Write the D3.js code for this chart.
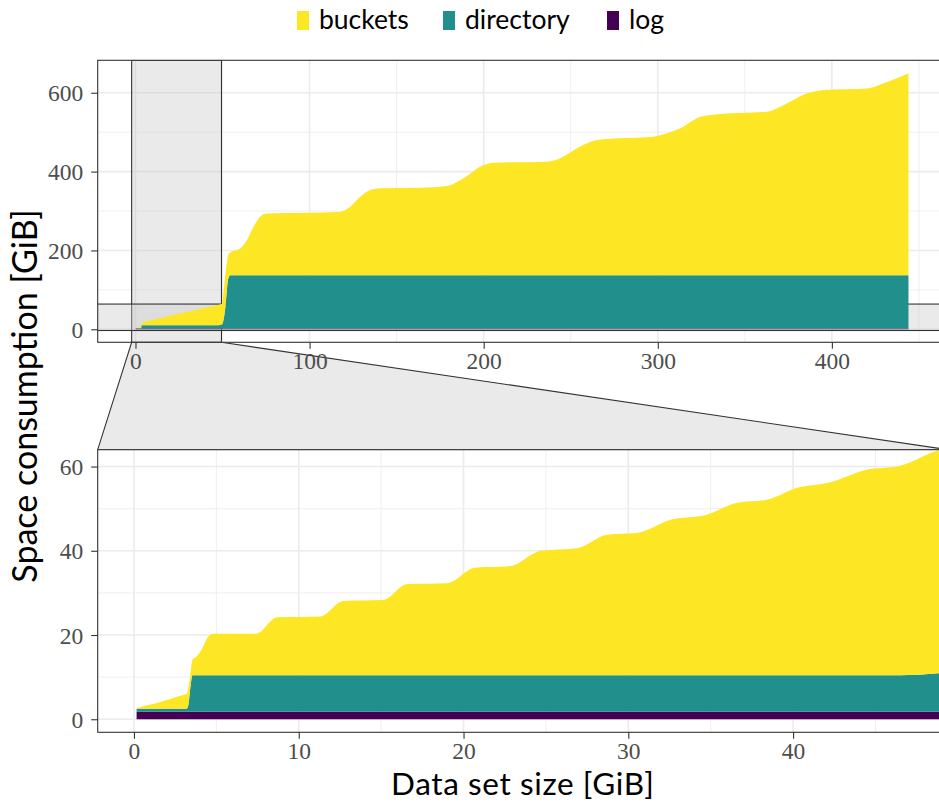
<!DOCTYPE html>
<html><head><meta charset="utf-8">
<script src="https://cdn.jsdelivr.net/npm/d3@7"></script>
<style>body{margin:0;background:#fff}svg{display:block}</style>
</head><body><svg id="c" width="939" height="802"></svg>
<script>
// ---- data (GiB) ----
const seriesNames = ["buckets", "directory", "log"];
const seriesColors = ["#FDE725", "#21908C", "#440154"];
const dataSize = [0.16,0.4,1.5,3.1,3.2,3.3,3.43,3.55,3.8,4.1,4.5,4.8,7.4,8.7,11.3,12.7,15.1,16.6,19.0,20.7,22.8,24.7,26.9,28.7,30.5,32.6,34.7,36.6,38.4,40.3,42.2,44.4,46.5,48.8,49.6,51.5,53.2,54.4,57,60.1,64,67.8,71.6,75.5,100,117.6,123.3,129.1,134.8,140.6,163.6,178.9,188.4,200,205.7,236.4,244,253.6,263.2,270.9,297.6,305.3,313,324.5,336,362.8,372.4,385.8,395.3,420.3,429.8,444];
const logSpace = [1.8,1.8,1.8,1.8,1.8,1.8,1.8,1.8,1.8,1.8,1.8,1.8,1.8,1.8,1.8,1.8,1.8,1.8,1.8,1.8,1.8,1.8,1.8,1.8,1.8,1.8,1.8,1.8,1.8,1.8,1.8,1.8,1.8,1.8,1.8,1.8,1.8,1.8,1.8,1.8,1.8,1.8,1.8,1.8,1.8,1.8,1.8,1.8,1.8,1.8,1.8,1.8,1.8,1.8,1.8,1.8,1.8,1.8,1.8,1.8,1.8,1.8,1.8,1.8,1.8,1.8,1.8,1.8,1.8,1.8,1.8,1.8];
const directorySpace = [0.7,0.7,0.7,0.7,0.7,1.5,6.0,8.65,8.65,8.65,8.65,8.65,8.65,8.65,8.65,8.65,8.65,8.65,8.65,8.65,8.65,8.65,8.65,8.65,8.65,8.65,8.65,8.65,8.65,8.65,8.65,8.65,8.65,9.1,9.6,49,125,135.2,135.2,135.2,135.2,135.2,135.2,135.2,135.2,135.2,135.2,135.2,135.2,135.2,135.2,135.2,135.2,135.2,135.2,135.2,135.2,135.2,135.2,135.2,135.2,135.2,135.2,135.2,135.2,135.2,135.2,135.2,135.2,135.2,135.2,135.2];
const bucketSpace = [0.1,0.4,1.5,3.4,3.5,4.2,3.2,3.65,4.45,6.05,9.15,9.85,9.85,13.75,13.95,17.65,17.85,21.65,21.85,25.55,25.85,29.55,30.15,33.35,33.75,36.95,38.05,40.95,41.65,44.55,45.75,48.75,49.75,52.9,53.1,82.2,61.2,58.0,62.0,68.0,89.0,123.0,148.6,157.0,158.5,161.0,174.0,199.0,216.0,220.6,222.0,226.4,246.0,279.7,285.5,288.0,296.7,322.0,341.0,345.6,351.5,360.0,372.8,402.0,409.0,415.0,432.0,461.5,470.0,474.0,487.0,512.5];
const xTicksMain = [0,100,200,300,400];
const yTicksMain = [0,200,400,600];
const xTicksZoom = [0,10,20,30,40];
const yTicksZoom = [0,20,40,60];
const xTitle = "Data set size [GiB]";
const yTitle = "Space consumption [GiB]";

// ---- table for stacking ----
const table = dataSize.map((x,i)=>({x, log:logSpace[i], directory:directorySpace[i], buckets:bucketSpace[i]}));
const stacked = d3.stack().keys(["log","directory","buckets"])(table);
const colorOf = {buckets:seriesColors[0], directory:seriesColors[1], log:seriesColors[2]};

const svg = d3.select("#c");
const PL = 97.7, PR = 948;
const panels = [
  {id:"main", x:d3.scaleLinear().domain([-21.7,466.7]).range([PL,PR]),
   y:d3.scaleLinear().domain([-33,682.3]).range([342.3,60.3]),
   xt:xTicksMain, yt:yTicksMain, xminor:[50,150,250,350,450], yminor:[100,300,500]},
  {id:"zoom", x:d3.scaleLinear().domain([-2.2,49.4]).range([PL,PR]),
   y:d3.scaleLinear().domain([-3.1,64.0]).range([732.3,449.7]),
   xt:xTicksZoom, yt:yTicksZoom, xminor:[5,15,25,35,45], yminor:[10,30,50]}
];
const main = panels[0], zoom = panels[1];
const bandFill = "#c8c8c8", bandOpacity = 0.38, ink = "#333333";

function drawPanel(p){
  const g = svg.append("g");
  const [x0,x1] = p.x.range(), [y1,y0] = p.y.range();
  g.append("rect").attr("x",x0).attr("y",y0).attr("width",x1-x0).attr("height",y1-y0).attr("fill","#fff");
  const grid = g.append("g").attr("stroke","#ebebeb");
  p.xminor.forEach(v=>grid.append("line").attr("x1",p.x(v)).attr("x2",p.x(v)).attr("y1",y0).attr("y2",y1).attr("stroke-width",0.8));
  p.yminor.forEach(v=>grid.append("line").attr("y1",p.y(v)).attr("y2",p.y(v)).attr("x1",x0).attr("x2",x1).attr("stroke-width",0.8));
  p.xt.forEach(v=>grid.append("line").attr("x1",p.x(v)).attr("x2",p.x(v)).attr("y1",y0).attr("y2",y1).attr("stroke-width",1.6));
  p.yt.forEach(v=>grid.append("line").attr("y1",p.y(v)).attr("y2",p.y(v)).attr("x1",x0).attr("x2",x1).attr("stroke-width",1.6));
  return g;
}

panels.forEach(p=>{
  const [x0,x1] = p.x.range(), [y1,y0] = p.y.range();
  svg.append("clipPath").attr("id","clip-"+p.id).append("rect")
    .attr("x",x0).attr("y",y0).attr("width",x1-x0).attr("height",y1-y0);
});

// trapezoid between panels
const zx0 = main.x(zoom.x.domain()[0]), zx1 = main.x(zoom.x.domain()[1]);
svg.append("path")
  .attr("d", d3.line()([[zx0,342.3],[zx1,342.3],[PR,449.7],[PL,449.7]]) + "Z")
  .attr("fill",bandFill).attr("fill-opacity",bandOpacity)
  .attr("stroke",ink).attr("stroke-width",1.1);

panels.forEach(p=>{
  const g = drawPanel(p);
  const [x0,x1] = p.x.range(), [y1,y0] = p.y.range();
  const inner = g.append("g").attr("clip-path","url(#clip-"+p.id+")");
  if(p.id==="main"){
    const zy0 = p.y(zoom.y.domain()[1]), zy1 = p.y(zoom.y.domain()[0]);
    inner.append("rect").attr("x",zx0).attr("y",y0).attr("width",zx1-zx0).attr("height",y1-y0)
      .attr("fill",bandFill).attr("fill-opacity",bandOpacity).attr("stroke",ink).attr("stroke-width",1.1);
    inner.append("rect").attr("x",x0-2).attr("y",zy0).attr("width",x1-x0+4).attr("height",zy1-zy0)
      .attr("fill",bandFill).attr("fill-opacity",bandOpacity).attr("stroke",ink).attr("stroke-width",1.1);
  }
  const area = d3.area().curve(d3.curveMonotoneX)
    .x(d=>p.x(d.data.x)).y0(d=>p.y(d[0])).y1(d=>p.y(d[1]));
  stacked.forEach(s=>{
    inner.append("path").attr("d",area(s)).attr("fill",colorOf[s.key]);
  });
  g.append("rect").attr("x",x0).attr("y",y0).attr("width",x1-x0).attr("height",y1-y0)
    .attr("fill","none").attr("stroke",ink).attr("stroke-width",1.1);
  // axes
  const ax = g.append("g").attr("transform",`translate(0,${y1})`)
    .call(d3.axisBottom(p.x).tickValues(p.xt).tickSize(6.5).tickPadding(3).tickFormat(d3.format("d")));
  const ay = g.append("g").attr("transform",`translate(${x0},0)`)
    .call(d3.axisLeft(p.y).tickValues(p.yt).tickSize(6.5).tickPadding(8).tickFormat(d3.format("d")));
  [ax,ay].forEach(a=>{
    a.select(".domain").remove();
    a.selectAll(".tick line").attr("stroke",ink).attr("stroke-width",1.1);
    a.selectAll(".tick text").attr("fill","#4d4d4d")
      .style("font-family","'Liberation Serif', serif").style("font-size","23.5px");
  });
  ax.selectAll(".tick text").attr("y",null).attr("dy",null).attr("transform","translate(0,26.5)");
  ay.selectAll(".tick text").attr("dy","0.34em");
});

// titles
svg.append("text").attr("x",(PL+PR)/2).attr("y",794.5).attr("text-anchor","middle")
  .style("font-family","Lato, sans-serif").style("font-size","31.5px").style("letter-spacing","0.6px")
  .attr("fill","#000").text(xTitle);
svg.append("text").attr("transform",`translate(37,396) rotate(-90)`).attr("text-anchor","middle")
  .style("font-family","Lato, sans-serif").style("font-size","34px").attr("fill","#000").text(yTitle);

// legend
const legendX = [297, 443, 607];
seriesNames.forEach((n,i)=>{
  const lg = svg.append("g").attr("transform",`translate(${legendX[i]},0)`);
  lg.append("rect").attr("x",0).attr("y",11).attr("width",12).attr("height",19).attr("fill",seriesColors[i]);
  lg.append("text").attr("x",22).attr("y",29).style("font-family","Lato, sans-serif").style("font-size","26.5px")
    .attr("fill","#000").text(n);
});
</script></body></html>
